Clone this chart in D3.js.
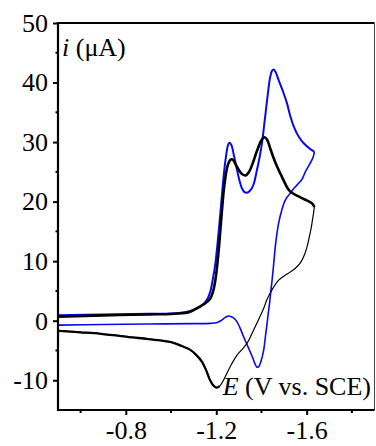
<!DOCTYPE html>
<html>
<head>
<meta charset="utf-8">
<script src="https://cdn.jsdelivr.net/npm/d3@7"></script>
<style>
  body { margin: 0; background: #fff; }
  svg { display: block; font-family: "Liberation Serif", "Times New Roman", serif; }
</style>
</head>
<body>
<div id="chart"></div>
<script>
// cyclic voltammograms, E in V vs SCE, i in uA
var blackFwdE = [-0.50, -0.70, -0.90, -1.00, -1.06, -1.085, -1.12, -1.15, -1.173, -1.185, -1.196, -1.21, -1.222, -1.235, -1.25, -1.262, -1.272, -1.285, -1.30, -1.315, -1.33, -1.345, -1.36, -1.38, -1.40, -1.413, -1.425, -1.44, -1.455, -1.47, -1.485, -1.50, -1.515, -1.53, -1.557, -1.59, -1.624, -1.634];
var blackFwdI = [0.65, 0.9, 1.05, 1.12, 1.3, 1.5, 2.2, 2.9, 3.7, 4.8, 6.8, 11.5, 17, 22.5, 26, 27, 27.1, 26.3, 25.3, 24.6, 24.4, 25, 26.3, 28.5, 30.3, 30.8, 30.4, 28.8, 27.2, 25.8, 24.6, 23.4, 22.3, 21.6, 21.0, 20.4, 19.7, 19.1];

var blackRevE = [-1.634, -1.628, -1.62, -1.61, -1.6, -1.585, -1.572, -1.55, -1.528, -1.50, -1.476, -1.447, -1.425, -1.41, -1.38, -1.355, -1.336, -1.31, -1.292, -1.262, -1.232, -1.215, -1.203, -1.19, -1.173, -1.155, -1.137, -1.11, -1.085, -1.05, -1.0, -0.9, -0.83, -0.69, -0.6, -0.5];
var blackRevI = [19.1, 17.5, 15.6, 13.8, 12.2, 10.6, 9.7, 8.8, 8.2, 7.5, 6.8, 5.2, 3.6, 2.1, -0.4, -2.4, -3.8, -5.0, -5.8, -7.7, -10, -11, -11.25, -11, -10, -8.3, -6.9, -5.7, -4.9, -4.3, -3.6, -3.1, -2.8, -2.2, -1.95, -1.7];

var blueFwdE = [-0.50, -0.70, -0.90, -1.00, -1.06, -1.10, -1.125, -1.144, -1.16, -1.173, -1.185, -1.196, -1.207, -1.218, -1.225, -1.232, -1.242, -1.252, -1.258, -1.266, -1.278, -1.292, -1.305, -1.314, -1.325, -1.336, -1.348, -1.358, -1.366, -1.38, -1.392, -1.402, -1.414, -1.425, -1.439, -1.447, -1.454, -1.462, -1.476, -1.498, -1.513, -1.528, -1.543, -1.565, -1.587, -1.617, -1.634];
var blueFwdI = [0.9, 1.05, 1.15, 1.2, 1.4, 1.8, 2.3, 2.8, 3.6, 4.8, 7, 9.6, 13.5, 18, 21, 24, 27.3, 29.5, 29.9, 29.6, 27.8, 25.3, 23.2, 22.2, 21.6, 21.5, 21.8, 22.3, 23, 25.3, 27.5, 29.8, 33.5, 37.1, 41, 42.0, 42.2, 41.8, 40.4, 38.2, 36.5, 34.3, 32.6, 30.9, 29.8, 28.8, 28.4];

var blueRevE = [-1.634, -1.628, -1.612, -1.594, -1.58, -1.56, -1.543, -1.525, -1.506, -1.49, -1.476, -1.468, -1.461, -1.454, -1.447, -1.441, -1.436, -1.43, -1.425, -1.418, -1.41, -1.398, -1.388, -1.38, -1.372, -1.362, -1.351, -1.336, -1.321, -1.305, -1.292, -1.275, -1.255, -1.24, -1.22, -1.2, -1.173, -1.1, -0.9, -0.7, -0.5];
var blueRevI = [28.4, 27.4, 26.2, 25.0, 23.8, 22.9, 22.2, 21.3, 20.3, 18.6, 16.4, 14.5, 12.4, 9.5, 6.8, 4.8, 3.0, 1.2, -0.4, -2.5, -4.9, -6.8, -7.7, -7.8, -7.3, -6.3, -5.3, -4.0, -2.7, -1.2, -0.2, 0.5, 0.8, 0.55, 0.0, -0.35, -0.45, -0.5, -0.55, -0.65, -0.75];

var yTicks = [-10, 0, 10, 20, 30, 40, 50];
var yMinor = [-5, 5, 15, 25, 35, 45];
var xTicks = [-0.8, -1.2, -1.6];
var xMinor = [-0.6, -1.0, -1.4, -1.8];

var width = 376, height = 446;
var mLeft = 58, mRight = 374.5, mTop = 23, mBottom = 410;
var fontSize = 26;
var blue = "#0808f2";

var svg = d3.select("#chart").append("svg")
	.attr("width", width)
	.attr("height", height);

var x = d3.scaleLinear().domain([-0.5, -1.9]).range([mLeft, mRight]);
var y = d3.scaleLinear().domain([-15, 50]).range([mBottom, mTop]);

function pts(es, is) {
	return es.map(function(e, k) { return [e, is[k]]; });
}

var line = d3.line()
	.x(function(d) { return x(d[0]); })
	.y(function(d) { return y(d[1]); })
	.curve(d3.curveCatmullRom.alpha(0.5));

// curves
var plot = svg.append("g");

plot.append("path").datum(pts(blueRevE, blueRevI))
	.attr("d", line).attr("fill", "none")
	.attr("stroke", blue).attr("stroke-width", 1.6);
plot.append("path").datum(pts(blueFwdE, blueFwdI))
	.attr("d", line).attr("fill", "none")
	.attr("stroke", blue).attr("stroke-width", 2);

var bRev = pts(blackRevE, blackRevI);
plot.append("path").datum(bRev)
	.attr("d", line).attr("fill", "none")
	.attr("stroke", "#000").attr("stroke-width", 1.2);
// left part of the return scan is drawn heavier, like the original
plot.append("path").datum(bRev.filter(function(d) { return d[0] >= -1.215; }))
	.attr("d", line).attr("fill", "none")
	.attr("stroke", "#000").attr("stroke-width", 2.3);
plot.append("path").datum(pts(blackFwdE, blackFwdI))
	.attr("d", line).attr("fill", "none")
	.attr("stroke", "#000").attr("stroke-width", 2.6);

// frame
svg.append("line").attr("x1", mLeft).attr("x2", mRight).attr("y1", mTop).attr("y2", mTop)
	.attr("stroke", "#000").attr("stroke-width", 2.2);
svg.append("line").attr("x1", mRight).attr("x2", mRight).attr("y1", mTop).attr("y2", mBottom)
	.attr("stroke", "#444").attr("stroke-width", 1);

// axes
var yAxis = svg.append("g")
	.attr("transform", "translate(" + mLeft + ",0)")
	.call(d3.axisLeft(y).tickValues(yTicks).tickSize(5).tickPadding(5).tickFormat(function(d) { return String(d); }));
var xAxis = svg.append("g")
	.attr("transform", "translate(0," + mBottom + ")")
	.call(d3.axisBottom(x).tickValues(xTicks).tickSize(5).tickPadding(6).tickFormat(function(d) { return d.toFixed(1); }));

[yAxis, xAxis].forEach(function(g) {
	g.select(".domain").remove();
	g.selectAll(".tick line").attr("stroke", "#000").attr("stroke-width", 2);
	g.selectAll("text").attr("font-family", "Liberation Serif").attr("font-size", fontSize).attr("fill", "#000");
});

svg.append("g").selectAll("line").data(yMinor).enter().append("line")
	.attr("x1", mLeft - 2.5).attr("x2", mLeft)
	.attr("y1", function(d) { return y(d); }).attr("y2", function(d) { return y(d); })
	.attr("stroke", "#000").attr("stroke-width", 2);
svg.append("g").selectAll("line").data(xMinor).enter().append("line")
	.attr("x1", function(d) { return x(d); }).attr("x2", function(d) { return x(d); })
	.attr("y1", mBottom).attr("y2", mBottom + 3)
	.attr("stroke", "#000").attr("stroke-width", 2);

svg.append("line").attr("x1", mLeft).attr("x2", mLeft).attr("y1", mTop - 1).attr("y2", mBottom + 1)
	.attr("stroke", "#000").attr("stroke-width", 2.2);
svg.append("line").attr("x1", mLeft).attr("x2", mRight).attr("y1", mBottom).attr("y2", mBottom)
	.attr("stroke", "#000").attr("stroke-width", 2.2);

// axis titles
var yt = svg.append("text").attr("x", 62).attr("y", 56)
	.attr("font-size", fontSize).attr("fill", "#000");
yt.append("tspan").attr("font-style", "italic").text("i");
yt.append("tspan").text(" (μA)");

var xt = svg.append("text").attr("x", 371).attr("y", 395)
	.attr("text-anchor", "end").attr("font-size", fontSize).attr("fill", "#000");
xt.append("tspan").attr("font-style", "italic").text("E");
xt.append("tspan").text(" (V vs. SCE)");
</script>
</body>
</html>
